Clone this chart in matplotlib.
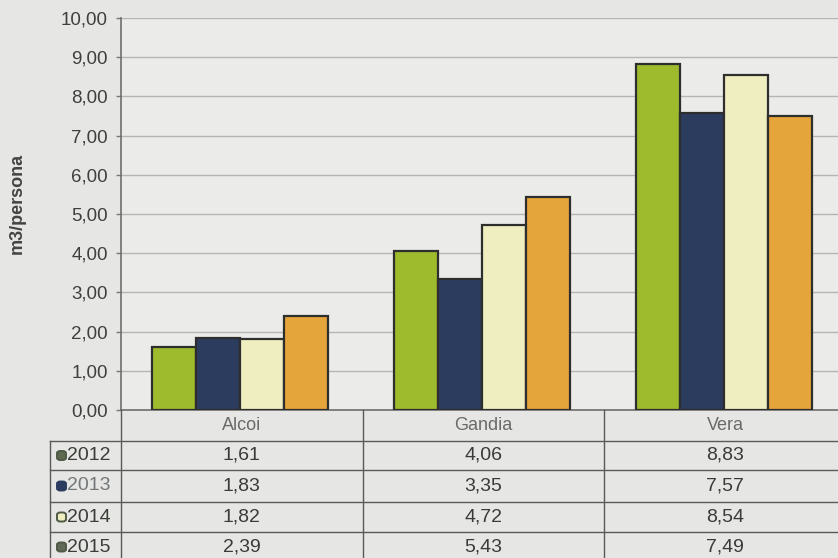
import matplotlib
matplotlib.use("Agg")
import matplotlib.pyplot as plt
import matplotlib.transforms as mtransforms
from matplotlib.patches import FancyBboxPatch

categories = ["Alcoi", "Gandia", "Vera"]
years = ["2012", "2013", "2014", "2015"]
values = {
    "2012": [1.61, 4.06, 8.83],
    "2013": [1.83, 3.35, 7.57],
    "2014": [1.82, 4.72, 8.54],
    "2015": [2.39, 5.43, 7.49],
}
yticks = [0, 1, 2, 3, 4, 5, 6, 7, 8, 9, 10]
colors = ["#9dbb2c", "#2b3c5e", "#efeec0", "#e4a53a"]
marker_colors = ["#5e6a4f", "#2b3c5e", "#efeec0", "#616a56"]
year_text_colors = ["#3a3d38", "#75787a", "#3a3d38", "#3a3d38"]

plt.rcParams['font.family'] = ['Liberation Sans', 'DejaVu Sans']

W, H = 838, 558
fig = plt.figure(figsize=(W / 100, H / 100), dpi=100)
fig.patch.set_facecolor("#e6e7e4")

def fx(x):
    return x / W

def fy(y):
    return 1 - y / H

left, right, top, bottom = 121, 846, 18, 410
ax = fig.add_axes([fx(left), fy(bottom), fx(right - left), (bottom - top) / H])
ax.set_facecolor("#ebecea")

n = len(years)
bw = 0.182
start = 0.13
for k, yr in enumerate(years):
    xs = [i + start + bw * k + bw / 2 for i in range(len(categories))]
    ax.bar(xs, values[yr], width=bw, color=colors[k], edgecolor="#2e2e2e",
           linewidth=1.6, zorder=3)

ax.set_xlim(0, len(categories))
ax.set_ylim(0, 10)
ax.set_yticks(yticks)
ax.set_yticklabels([f"{v:.2f}".replace(".", ",") for v in yticks],
                   fontsize=13.5, color="#3f3f3f")
ax.set_xticks([])
ax.yaxis.grid(True, color="#b5b6b4", linewidth=1.0, zorder=0)
ax.tick_params(axis="y", length=3.6, width=1, color="#777777", pad=6)
for s in ["top", "right"]:
    ax.spines[s].set_visible(False)
ax.spines["left"].set_color("#6e6e6e")
ax.spines["left"].set_linewidth(1.2)
ax.spines["bottom"].set_color("#6e6e6e")
ax.spines["bottom"].set_linewidth(1.2)
ax.set_ylabel("m3/persona", fontsize=13, fontweight="bold", color="#444444")
ax.yaxis.set_label_coords(-0.131, 0.528)

# Data table below the axes
trans = mtransforms.blended_transform_factory(ax.transData, fig.transFigure)
line_kw = dict(color="#5a5a5a", linewidth=1.0, clip_on=False)

row_lines = [441, 470, 502, 532]
for y in row_lines:
    fig.add_artist(plt.Line2D([fx(50), 1.02], [fy(y), fy(y)], transform=fig.transFigure, **line_kw))
fig.add_artist(plt.Line2D([fx(50), fx(50)], [fy(441), fy(570)], transform=fig.transFigure, **line_kw))
for c in range(len(categories)):
    fig.add_artist(plt.Line2D([c, c], [fy(410), fy(570)], transform=trans, **line_kw))

header_y = (410 + 441) / 2
row_centers = [(441 + 470) / 2, (470 + 502) / 2, (502 + 532) / 2, (532 + 562) / 2]
for i, cat in enumerate(categories):
    fig.text(i + 0.5, fy(header_y), cat, transform=trans, ha="center",
             va="center", fontsize=13, color="#6a6a6a")
for k, yr in enumerate(years):
    yc = fy(row_centers[k])
    sq = FancyBboxPatch((fx(57), yc - 4.5 / H), 9 / W, 9 / H,
                        boxstyle="round,pad=0,rounding_size=0.004",
                        transform=fig.transFigure, facecolor=marker_colors[k],
                        edgecolor="#4f5a45" if k != 1 else "#2b3c5e",
                        linewidth=1.4)
    fig.add_artist(sq)
    fig.text(fx(67), yc, yr, ha="left", va="center", fontsize=14,
             color=year_text_colors[k])
    for i in range(len(categories)):
        fig.text(i + 0.5, yc, f"{values[yr][i]:.2f}".replace(".", ","),
                 transform=trans, ha="center", va="center", fontsize=14,
                 color="#3a3a3a")

fig.savefig("out.png", dpi=100, facecolor=fig.get_facecolor())
